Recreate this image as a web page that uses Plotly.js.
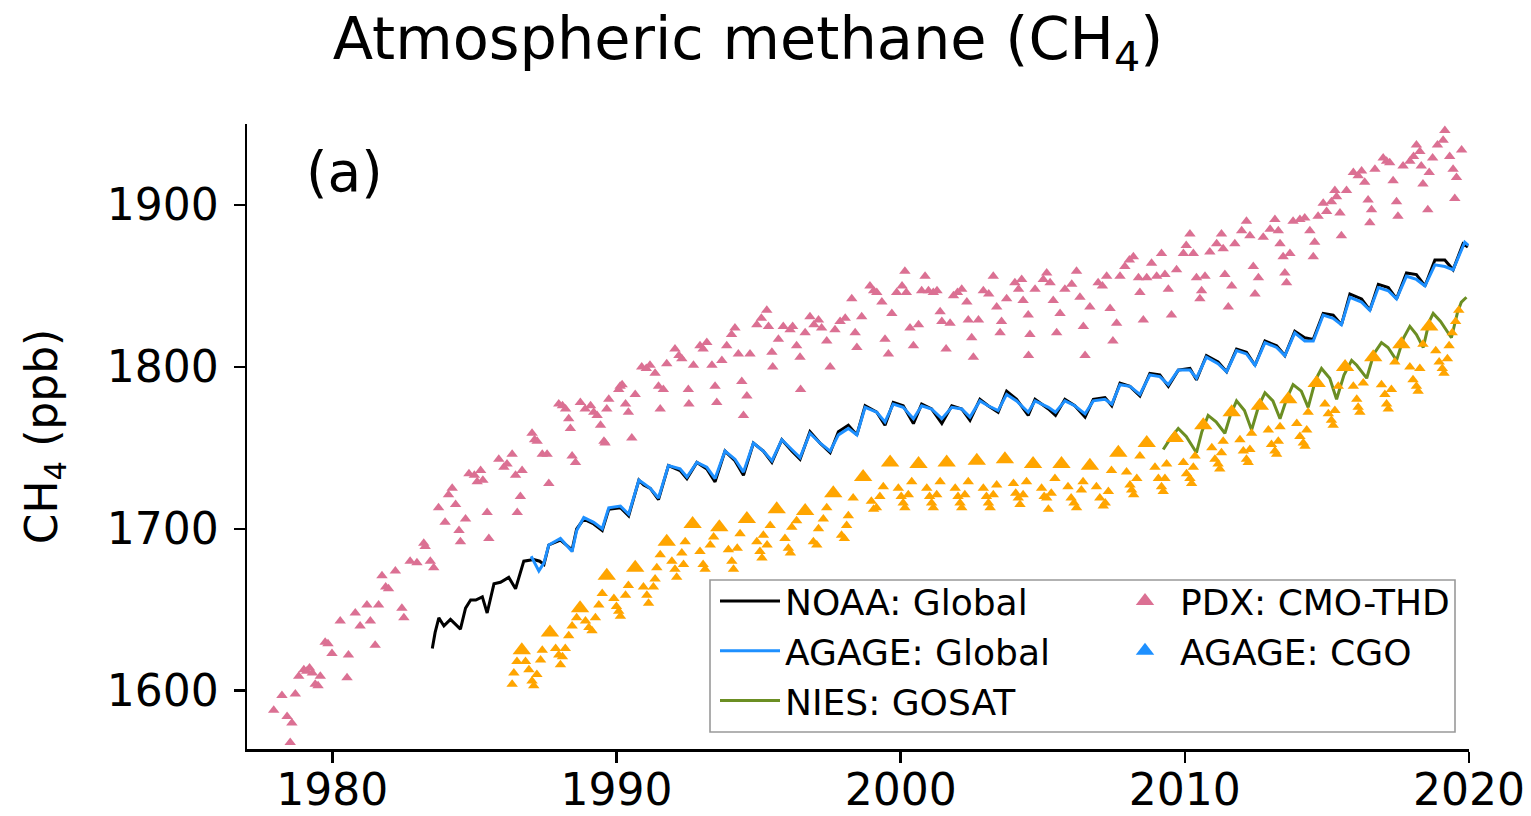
<!DOCTYPE html>
<html>
<head>
<meta charset="utf-8">
<script src="https://cdn.plot.ly/plotly-3.0.1.min.js"></script>
<style>html,body{margin:0;padding:0;background:#fff;}#chart{width:1531px;height:816px;}</style>
</head>
<body>
<div id="chart"></div>
<script>
// ---- NOAA: Global (monthly-resolution turning points, ppb) ----
const noaaYear = [1983.52,1983.62,1983.75,1983.93,1984.16,1984.35,1984.51,1984.69,1984.87,1985.05,1985.28,1985.45,1985.69,1985.92,1986.21,1986.45,1986.74,1987.09,1987.30,1987.45,1987.62,1988.03,1988.25,1988.44,1988.60,1988.85,1989.20,1989.50,1989.73,1990.14,1990.43,1990.79,1990.96,1991.19,1991.48,1991.83,1992.24,1992.48,1992.83,1993.18,1993.47,1993.82,1994.17,1994.47,1994.82,1995.17,1995.47,1995.82,1996.17,1996.46,1996.81,1997.16,1997.52,1997.81,1998.16,1998.46,1998.75,1999.16,1999.45,1999.74,2000.09,2000.45,2000.74,2001.09,2001.45,2001.80,2002.15,2002.44,2002.79,2003.08,2003.43,2003.73,2004.08,2004.49,2004.73,2005.20,2005.45,2005.78,2006.13,2006.49,2006.78,2007.19,2007.43,2007.72,2008.07,2008.42,2008.77,2009.12,2009.42,2009.77,2010.18,2010.41,2010.76,2011.17,2011.47,2011.82,2012.17,2012.47,2012.82,2013.23,2013.52,2013.87,2014.22,2014.52,2014.87,2015.22,2015.51,2015.81,2016.22,2016.51,2016.81,2017.16,2017.45,2017.80,2018.15,2018.45,2018.80,2019.15,2019.44,2019.79,2019.96];
const noaaCH4 = [1626,1636,1645,1640,1644,1641,1638,1651,1656,1656,1658,1648,1666,1667,1670,1663,1680,1681,1680,1678,1690,1693,1690,1687,1700,1706,1703,1699,1712,1713,1708,1730,1727,1725,1718,1739,1736,1731,1741,1737,1729,1748,1742,1733,1753,1748,1741,1755,1748,1743,1760,1753,1747,1760,1764,1758,1776,1772,1764,1778,1776,1765,1777,1774,1765,1776,1774,1767,1780,1776,1772,1785,1780,1770,1780,1774,1770,1780,1776,1769,1780,1781,1776,1790,1788,1782,1796,1795,1788,1798,1799,1792,1807,1803,1797,1811,1809,1801,1816,1813,1807,1822,1818,1817,1833,1832,1826,1845,1842,1835,1851,1849,1842,1858,1857,1850,1866,1866,1860,1876,1874];

// ---- AGAGE: Global ----
const agageYear = [1987.00,1987.27,1987.45,1987.62,1988.03,1988.25,1988.44,1988.60,1988.85,1989.20,1989.50,1989.73,1990.14,1990.43,1990.79,1990.96,1991.19,1991.48,1991.83,1992.24,1992.48,1992.83,1993.18,1993.47,1993.82,1994.17,1994.47,1994.82,1995.17,1995.47,1995.82,1996.17,1996.46,1996.81,1997.16,1997.52,1997.81,1998.16,1998.46,1998.75,1999.16,1999.45,1999.74,2000.09,2000.45,2000.74,2001.09,2001.45,2001.80,2002.15,2002.44,2002.79,2003.08,2003.43,2003.73,2004.08,2004.49,2004.73,2005.20,2005.45,2005.78,2006.13,2006.49,2006.78,2007.19,2007.43,2007.72,2008.07,2008.42,2008.77,2009.12,2009.42,2009.77,2010.18,2010.41,2010.76,2011.17,2011.47,2011.82,2012.17,2012.47,2012.82,2013.23,2013.52,2013.87,2014.22,2014.52,2014.87,2015.22,2015.51,2015.81,2016.22,2016.51,2016.81,2017.16,2017.45,2017.80,2018.15,2018.45,2018.80,2019.15,2019.44,2019.85,2019.98];
const agageCH4 = [1683,1674,1679,1690,1694,1690,1686,1699,1707,1704,1700,1713,1714,1709,1730,1728,1725,1719,1739,1737,1732,1741,1738,1731,1748,1743,1735,1753,1748,1742,1755,1749,1744,1759,1753,1748,1758,1762,1758,1775,1772,1766,1777,1775,1768,1776,1774,1768,1775,1774,1769,1779,1776,1773,1783,1779,1772,1779,1775,1772,1779,1776,1771,1779,1780,1777,1789,1788,1783,1795,1794,1789,1798,1798,1793,1806,1802,1797,1810,1808,1801,1815,1812,1807,1821,1816,1816,1832,1830,1826,1843,1840,1835,1849,1847,1842,1856,1854,1850,1863,1862,1860,1877,1875];

// ---- NIES: GOSAT ----
const gosatYear = [2009.24,2009.50,2009.77,2010.05,2010.41,2010.60,2010.82,2011.10,2011.41,2011.60,2011.82,2012.10,2012.35,2012.60,2012.82,2013.10,2013.35,2013.60,2013.81,2014.10,2014.34,2014.60,2014.81,2015.10,2015.34,2015.60,2015.87,2016.05,2016.40,2016.65,2016.92,2017.15,2017.45,2017.70,2017.92,2018.15,2018.39,2018.60,2018.74,2019.00,2019.38,2019.60,2019.73,2019.91];
const gosatCH4 = [1749,1756,1762,1757,1747,1760,1770,1766,1759,1770,1779,1773,1761,1776,1784,1779,1768,1781,1789,1785,1775,1792,1799,1793,1780,1795,1804,1801,1793,1808,1815,1812,1804,1818,1825,1820,1812,1828,1833,1828,1818,1834,1840,1843];

// ---- PDX: CMO-THD (station samples) ----
const pdxYear = [1977.94,1978.23,1978.41,1978.52,1978.58,1978.70,1978.82,1979.00,1979.10,1979.20,1979.30,1979.40,1979.50,1979.58,1979.75,1979.85,1979.99,1980.28,1980.52,1980.57,1980.81,1980.98,1981.22,1981.34,1981.51,1981.63,1981.75,1981.88,1981.98,1982.22,1982.45,1982.52,1982.74,1982.98,1983.22,1983.27,1983.45,1983.57,1983.74,1983.97,1984.09,1984.22,1984.34,1984.46,1984.51,1984.69,1984.81,1985.00,1985.10,1985.22,1985.30,1985.45,1985.51,1985.86,1986.04,1986.15,1986.33,1986.45,1986.51,1986.62,1986.68,1987.03,1987.12,1987.21,1987.39,1987.56,1987.62,1987.97,1988.10,1988.21,1988.32,1988.38,1988.44,1988.56,1988.73,1988.90,1989.09,1989.20,1989.32,1989.44,1989.56,1989.60,1989.66,1989.73,1990.08,1990.13,1990.20,1990.32,1990.42,1990.54,1990.66,1990.89,1991.05,1991.18,1991.36,1991.48,1991.54,1991.65,1991.77,1992.06,1992.20,1992.30,1992.53,1992.55,1992.71,1992.94,1993.05,1993.18,1993.36,1993.47,1993.53,1993.71,1993.88,1994.05,1994.17,1994.29,1994.41,1994.47,1994.59,1994.70,1994.94,1995.10,1995.29,1995.35,1995.47,1995.50,1995.70,1995.87,1996.11,1996.20,1996.34,1996.46,1996.48,1996.64,1996.81,1996.95,1997.11,1997.22,1997.40,1997.52,1997.69,1997.87,1998.05,1998.28,1998.40,1998.46,1998.63,1998.92,1999.05,1999.16,1999.34,1999.45,1999.57,1999.69,1999.86,2000.05,2000.15,2000.20,2000.33,2000.45,2000.63,2000.74,2000.86,2000.98,2001.15,2001.28,2001.39,2001.45,2001.60,2001.74,2001.86,2002.00,2002.15,2002.33,2002.38,2002.50,2002.56,2002.74,2002.91,2003.10,2003.26,2003.38,2003.50,2003.55,2003.73,2004.02,2004.15,2004.26,2004.31,2004.49,2004.50,2004.55,2004.73,2005.02,2005.14,2005.26,2005.37,2005.49,2005.61,2005.78,2006.02,2006.19,2006.31,2006.43,2006.49,2006.66,2006.95,2007.10,2007.25,2007.37,2007.47,2007.60,2007.72,2007.89,2008.05,2008.19,2008.37,2008.42,2008.54,2008.66,2008.83,2009.01,2009.18,2009.30,2009.42,2009.53,2009.71,2009.95,2010.05,2010.18,2010.30,2010.41,2010.53,2010.59,2010.71,2010.88,2011.12,2011.29,2011.35,2011.41,2011.53,2011.65,2011.76,2012.00,2012.17,2012.29,2012.41,2012.47,2012.59,2012.76,2013.00,2013.17,2013.29,2013.35,2013.46,2013.52,2013.58,2013.70,2013.81,2014.05,2014.22,2014.40,2014.52,2014.57,2014.69,2014.87,2014.99,2015.16,2015.28,2015.34,2015.46,2015.51,2015.69,2015.93,2016.10,2016.22,2016.33,2016.45,2016.51,2016.57,2016.69,2016.98,2017.10,2017.21,2017.33,2017.45,2017.50,2017.68,2017.92,2018.05,2018.15,2018.27,2018.32,2018.38,2018.55,2018.60,2018.72,2018.89,2019.09,2019.15,2019.32,2019.44,2019.50,2019.56,2019.74];
const pdxCH4 = [1588,1597,1584,1568,1580,1598,1609,1613,1612,1614,1611,1604,1603,1609,1630,1629,1623,1643,1608,1622,1648,1640,1653,1643,1628,1653,1671,1664,1663,1674,1651,1645,1680,1679,1691,1689,1680,1676,1713,1704,1721,1725,1715,1699,1692,1706,1734,1733,1729,1736,1730,1710,1694,1743,1738,1740,1746,1733,1710,1720,1736,1759,1755,1754,1746,1746,1728,1777,1776,1774,1768,1762,1745,1741,1778,1774,1776,1772,1770,1764,1754,1753,1774,1780,1786,1788,1789,1777,1772,1756,1783,1800,1799,1801,1796,1788,1774,1786,1802,1811,1807,1805,1786,1777,1801,1813,1811,1815,1801,1788,1778,1804,1813,1820,1824,1808,1791,1770,1782,1808,1826,1830,1835,1825,1809,1800,1817,1825,1823,1825,1813,1806,1786,1821,1831,1826,1829,1824,1816,1800,1823,1828,1830,1842,1821,1812,1831,1850,1847,1846,1840,1817,1808,1833,1846,1850,1859,1846,1824,1813,1826,1847,1856,1847,1846,1847,1834,1828,1811,1827,1844,1846,1848,1840,1829,1818,1806,1829,1847,1845,1856,1837,1821,1828,1842,1852,1848,1854,1841,1832,1807,1820,1848,1854,1858,1852,1841,1821,1833,1848,1851,1859,1843,1825,1807,1837,1852,1850,1856,1836,1816,1827,1856,1862,1866,1868,1855,1846,1829,1855,1864,1856,1870,1857,1848,1832,1860,1870,1875,1882,1870,1855,1842,1847,1856,1871,1876,1882,1873,1857,1837,1850,1876,1884,1890,1881,1862,1845,1855,1880,1885,1891,1884,1876,1868,1858,1852,1870,1890,1891,1892,1884,1868,1877,1893,1901,1896,1902,1909,1905,1895,1881,1909,1920,1918,1921,1914,1903,1889,1897,1922,1929,1927,1926,1915,1902,1893,1924,1927,1930,1937,1933,1924,1913,1897,1920,1929,1937,1940,1946,1930,1922,1904,1917,1934];

// ---- AGAGE: CGO (station samples) ----
const cgoYear = [1986.33,1986.39,1986.50,1986.80,1986.92,1987.03,1987.09,1987.20,1987.33,1987.39,1987.86,1987.97,1988.03,1988.10,1988.20,1988.32,1988.44,1988.60,1988.91,1989.03,1989.14,1989.26,1989.38,1989.50,1989.91,1990.00,1990.08,1990.14,1990.32,1990.42,1990.95,1991.07,1991.13,1991.30,1991.36,1991.42,1991.54,1991.95,1992.06,1992.12,1992.30,1992.36,1992.42,1992.94,1993.05,1993.12,1993.30,1993.42,1993.94,1994.06,1994.12,1994.25,1994.35,1994.94,1995.05,1995.12,1995.17,1995.30,1995.41,1995.93,1996.05,1996.12,1996.17,1996.34,1996.93,1997.05,1997.11,1997.28,1997.40,1997.92,1998.02,1998.10,1998.16,1998.33,1998.97,1999.05,1999.15,1999.27,1999.39,1999.92,2000.02,2000.09,2000.15,2000.27,2000.39,2000.92,2001.02,2001.09,2001.15,2001.27,2001.39,2001.92,2002.02,2002.09,2002.15,2002.26,2002.38,2002.91,2003.02,2003.09,2003.15,2003.26,2003.38,2003.97,2004.05,2004.14,2004.20,2004.31,2004.43,2004.96,2005.05,2005.14,2005.20,2005.30,2005.43,2005.89,2006.00,2006.10,2006.19,2006.36,2006.42,2006.89,2007.01,2007.13,2007.20,2007.31,2007.42,2007.95,2008.07,2008.13,2008.20,2008.31,2008.42,2008.95,2009.07,2009.18,2009.24,2009.30,2009.36,2009.95,2010.06,2010.18,2010.24,2010.30,2010.36,2010.95,2011.06,2011.17,2011.23,2011.29,2011.35,2011.94,2012.06,2012.17,2012.23,2012.29,2012.35,2012.94,2013.05,2013.17,2013.23,2013.29,2013.35,2013.94,2014.05,2014.17,2014.23,2014.29,2014.34,2014.93,2015.05,2015.16,2015.22,2015.28,2015.40,2015.93,2016.05,2016.10,2016.16,2016.28,2016.92,2017.04,2017.10,2017.16,2017.27,2017.39,2017.92,2018.03,2018.15,2018.21,2018.27,2018.38,2018.83,2018.95,2019.06,2019.12,2019.24,2019.30,2019.41,2019.53,2019.64];
const cgoCH4 = [1604,1611,1618,1618,1613,1606,1603,1610,1619,1625,1626,1622,1616,1621,1626,1634,1640,1645,1643,1639,1637,1645,1653,1660,1657,1652,1649,1646,1659,1665,1664,1659,1654,1664,1669,1676,1684,1680,1675,1670,1685,1678,1692,1686,1678,1675,1690,1695,1687,1680,1675,1688,1697,1692,1686,1682,1696,1690,1702,1694,1688,1685,1701,1705,1692,1690,1700,1706,1713,1696,1694,1702,1708,1719,1717,1712,1713,1720,1726,1725,1720,1716,1713,1721,1729,1725,1720,1716,1713,1721,1729,1725,1720,1716,1713,1721,1729,1725,1720,1716,1713,1721,1727,1728,1722,1719,1715,1721,1729,1725,1720,1719,1712,1722,1731,1726,1719,1716,1713,1724,1729,1726,1719,1714,1716,1723,1736,1735,1727,1724,1721,1731,1745,1738,1731,1726,1723,1731,1740,1741,1734,1731,1728,1738,1745,1750,1743,1740,1737,1747,1754,1755,1748,1743,1741,1749,1759,1761,1752,1748,1746,1754,1763,1765,1757,1753,1751,1761,1772,1777,1771,1767,1764,1773,1788,1788,1780,1775,1772,1790,1789,1783,1777,1774,1786,1803,1800,1792,1788,1785,1799,1814,1810,1803,1799,1796,1805,1813,1821,1828,1835];
// annual seasonal-maximum samples (drawn larger)
const cgoPeakYear = [1986.67,1987.66,1988.72,1989.66,1990.66,1991.77,1992.68,1993.62,1994.59,1995.64,1996.64,1997.63,1998.68,1999.63,2000.63,2001.62,2002.68,2003.67,2004.66,2005.66,2006.66,2007.66,2008.66,2009.65,2010.65,2011.65,2012.64,2013.64,2014.64,2015.64,2016.63,2017.62,2018.60];
const cgoPeakCH4 = [1625,1636,1651,1671,1676,1692,1703,1701,1706,1712,1711,1722,1732,1741,1740,1741,1742,1743,1740,1740,1739,1747,1753,1756,1764,1772,1776,1780,1790,1800,1806,1814,1825];

const legendNames = ['NOAA: Global','AGAGE: Global','NIES: GOSAT','PDX: CMO-THD','AGAGE: CGO'];

const C = {pink:'#DB7093', orange:'#FFA500', black:'#000000', blue:'#1E90FF', green:'#6B8E23'};
const FONT = 'DejaVu Sans, Liberation Sans, sans-serif';

const traces = [
  {x: pdxYear, y: pdxCH4, type:'scatter', mode:'markers', showlegend:false,
   marker:{symbol:'triangle-up', size:10, color:C.pink, line:{width:0}}},
  {x: noaaYear, y: noaaCH4, type:'scatter', mode:'lines', name: legendNames[0], legend:'legend',
   line:{color:C.black, width:3}},
  {x: agageYear, y: agageCH4, type:'scatter', mode:'lines', name: legendNames[1], legend:'legend',
   line:{color:C.blue, width:3}},
  {x: gosatYear, y: gosatCH4, type:'scatter', mode:'lines', name: legendNames[2], legend:'legend',
   line:{color:C.green, width:3}},
  {x: cgoYear, y: cgoCH4, type:'scatter', mode:'markers', showlegend:false,
   marker:{symbol:'triangle-up', size:10, color:C.orange, line:{width:0}}},
  {x: cgoPeakYear, y: cgoPeakCH4, type:'scatter', mode:'markers', showlegend:false,
   marker:{symbol:'triangle-up', size:16, color:C.orange, line:{width:0}}},
  // legend keys for the station series (as shown in the original legend)
  {x:[null], y:[null], type:'scatter', mode:'markers', name: legendNames[3], legend:'legend2',
   marker:{symbol:'triangle-up', size:16, color:C.pink}},
  {x:[null], y:[null], type:'scatter', mode:'markers', name: legendNames[4], legend:'legend2',
   marker:{symbol:'triangle-up', size:16, color:C.blue}}
];

const L = 247, R = 62, T = 124, B = 67;
const PW = 1531 - L - R, PH = 816 - T - B;
const px = v => (v - L) / PW;          // pixel -> paper x
const py = v => (816 - B - v) / PH;    // pixel -> paper y

const layout = {
  width: 1531, height: 816,
  margin: {l: L, r: R, t: T, b: B},
  paper_bgcolor: '#ffffff', plot_bgcolor: '#ffffff',
  font: {family: FONT, size: 44, color: '#000'},
  title: {text: 'Atmospheric methane (CH<sub>4</sub>)', font: {family: FONT, size: 59, color: '#000'},
          x: 748/1531, xanchor: 'center', xref: 'container', y: 1 - 38/816, yanchor: 'middle', yref: 'container'},
  xaxis: {range: [1977, 2020], tickvals: [1980, 1990, 2000, 2010, 2020], showgrid: false, zeroline: false,
          showline: true, linecolor: '#000', linewidth: 2.5, ticks: 'outside', ticklen: 11, tickwidth: 2.5,
          tickcolor: '#000', tickfont: {family: FONT, size: 44, color: '#000'}, ticklabelstandoff: -10},
  yaxis: {range: [1564, 1950], tickvals: [1600, 1700, 1800, 1900], showgrid: false, zeroline: false,
          showline: true, linecolor: '#000', linewidth: 2.5, ticks: 'outside', ticklen: 11, tickwidth: 2.5,
          tickcolor: '#000', tickfont: {family: FONT, size: 44, color: '#000'}, ticklabelstandoff: 6,
          title: {text: 'CH<sub>4</sub> (ppb)', font: {family: FONT, size: 44, color: '#000'}, standoff: 36}},
  legend: {x: px(715), y: py(571), xanchor: 'left', yanchor: 'top', bgcolor: 'rgba(0,0,0,0)', borderwidth: 0,
           font: {family: FONT, size: 36, color: '#000'}, itemwidth: 60, tracegroupgap: 0},
  legend2: {x: px(1110), y: py(571), xanchor: 'left', yanchor: 'top', bgcolor: 'rgba(0,0,0,0)', borderwidth: 0,
           font: {family: FONT, size: 36, color: '#000'}, itemwidth: 60, tracegroupgap: 0},
  shapes: [{type: 'rect', xref: 'paper', yref: 'paper', x0: px(710), x1: px(1455), y0: py(732), y1: py(580),
            line: {color: '#999', width: 1.6}, fillcolor: 'rgba(255,255,255,0.8)', layer: 'below'}],
  annotations: [{text: '(a)', xref: 'paper', yref: 'paper', x: px(344), y: py(172), xanchor: 'center', yanchor: 'middle',
                 showarrow: false, font: {family: FONT, size: 55, color: '#000'}}],
  showlegend: true, hovermode: false
};

Plotly.newPlot('chart', traces, layout, {staticPlot: true, displayModeBar: false});
</script>
</body>
</html>
